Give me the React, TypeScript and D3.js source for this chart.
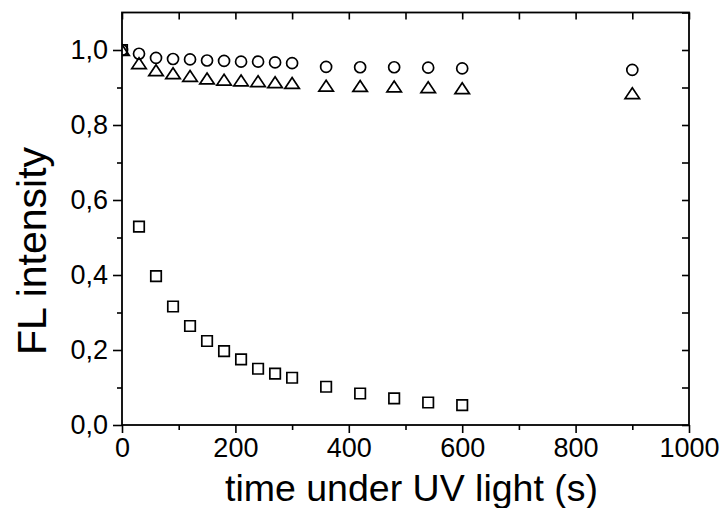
import React, { useEffect, useRef } from 'react'
import { select, scaleLinear, axisBottom, axisLeft, axisTop, axisRight, range, symbol, symbolCircle, symbolSquare } from 'd3'

// time under UV light (s)
const times = [0, 30, 60, 90, 120, 150, 180, 210, 240, 270, 300, 360, 420, 480, 540, 600, 900]
const circleValues = [1.0, 0.99, 0.979, 0.976, 0.975, 0.972, 0.971, 0.969, 0.969, 0.967, 0.965, 0.955, 0.954, 0.954, 0.953, 0.951, 0.947]
const triangleValues = [1.0, 0.965, 0.946, 0.938, 0.931, 0.924, 0.921, 0.919, 0.917, 0.914, 0.912, 0.905, 0.904, 0.903, 0.901, 0.898, 0.885]
const squareTimes = [0, 30, 60, 90, 120, 150, 180, 210, 240, 270, 300, 360, 420, 480, 540, 600]
const squareValues = [1.0, 0.529, 0.397, 0.316, 0.264, 0.224, 0.197, 0.175, 0.15, 0.137, 0.126, 0.102, 0.084, 0.071, 0.06, 0.053]

const xTickLabels = [0, 200, 400, 600, 800, 1000]
const yTickLabels = [0, 0.2, 0.4, 0.6, 0.8, 1.0]

// flat triangle like the origin marker, centred on its box
const flatTriangle = {
    draw(ctx: any, size: number) {
        const w = Math.sqrt(size) * 1.45, h = w * 0.75
        ctx.moveTo(0, -h / 2)
        ctx.lineTo(w / 2, h / 2)
        ctx.lineTo(-w / 2, h / 2)
        ctx.closePath()
    }
}

export default function App() {
    const svgRef = useRef<SVGSVGElement>(null)

    useEffect(() => {
        const W = 722, H = 508
        const left = 122, right = 689, top = 12.5, bottom = 425
        const font = '"Liberation Sans", Arial, sans-serif'

        const xScale = scaleLinear().domain([0, 1000]).range([left, right])
        const yScale = scaleLinear().domain([0, 1.1]).range([bottom, top])

        const svg = select(svgRef.current)
        svg.selectAll('*').remove()
        svg.attr('width', W).attr('height', H)

        svg.append('defs').append('clipPath').attr('id', 'plotclip')
            .append('rect')
            .attr('x', left).attr('y', top)
            .attr('width', right - left).attr('height', bottom - top)

        const fmt = (d: any) => Number(d).toFixed(1).replace('.', ',')

        // minor ticks
        svg.append('g').attr('transform', `translate(0,${bottom})`)
            .call(axisBottom(xScale).tickValues(range(100, 1000, 200)).tickSize(5).tickFormat(() => ''))
        svg.append('g').attr('transform', `translate(${left},0)`)
            .call(axisLeft(yScale).tickValues(range(0.1, 1.1, 0.2)).tickSize(5).tickFormat(() => ''))

        // major ticks + labels
        const xAxis = svg.append('g').attr('transform', `translate(0,${bottom})`)
            .call(axisBottom(xScale).tickValues(xTickLabels).tickSize(8).tickPadding(5).tickFormat((d: any) => String(d)))
        xAxis.selectAll('text').attr('font-size', 27).attr('font-family', font).attr('fill', '#000')

        const yAxis = svg.append('g').attr('transform', `translate(${left},0)`)
            .call(axisLeft(yScale).tickValues(yTickLabels).tickSize(9).tickPadding(5).tickFormat(fmt))
        yAxis.selectAll('text').attr('font-size', 27).attr('font-family', font).attr('fill', '#000')

        // top and right inward ticks
        svg.append('g').attr('transform', `translate(0,${top})`)
            .call(axisTop(xScale).tickValues(range(0, 1001, 100)).tickSize(-7).tickFormat(() => ''))
        svg.append('g').attr('transform', `translate(${right},0)`)
            .call(axisRight(yScale).tickValues(range(0, 1.11, 0.1)).tickSize(-7).tickFormat(() => ''))

        svg.selectAll('.domain').remove()
        svg.selectAll('.tick line').attr('stroke', '#000').attr('stroke-width', 1.6)

        svg.append('rect')
            .attr('x', left).attr('y', top)
            .attr('width', right - left).attr('height', bottom - top)
            .attr('fill', 'none').attr('stroke', '#000').attr('stroke-width', 1.8)

        const plot = svg.append('g').attr('clip-path', 'url(#plotclip)')

        const drawSeries = (xs: number[], ys: number[], type: any, size: number) => {
            plot.selectAll(null)
                .data(xs.map((t, i) => ({ t, v: ys[i] })))
                .join('path')
                .attr('d', symbol().type(type).size(size)())
                .attr('transform', d => `translate(${xScale(d.t)},${yScale(d.v)})`)
                .attr('fill', 'none')
                .attr('stroke', '#000')
                .attr('stroke-width', 1.7)
        }
        drawSeries(squareTimes, squareValues, symbolSquare, 110)
        drawSeries(times, circleValues, symbolCircle, 95)
        drawSeries(times, triangleValues, flatTriangle, 100)

        svg.append('text')
            .attr('x', (left + right) / 2 + 6).attr('y', 501)
            .attr('text-anchor', 'middle')
            .attr('font-family', font).attr('font-size', 37.5)
            .text('time under UV light (s)')

        svg.append('text')
            .attr('transform', `translate(46,251) rotate(-90)`)
            .attr('text-anchor', 'middle')
            .attr('font-family', font).attr('font-size', 41)
            .text('FL intensity')
    }, [])

    return (
        <div style={{ position: 'absolute', left: 0, top: 0 }}>
            <svg ref={svgRef} style={{ display: 'block' }}></svg>
        </div>
    )
}
